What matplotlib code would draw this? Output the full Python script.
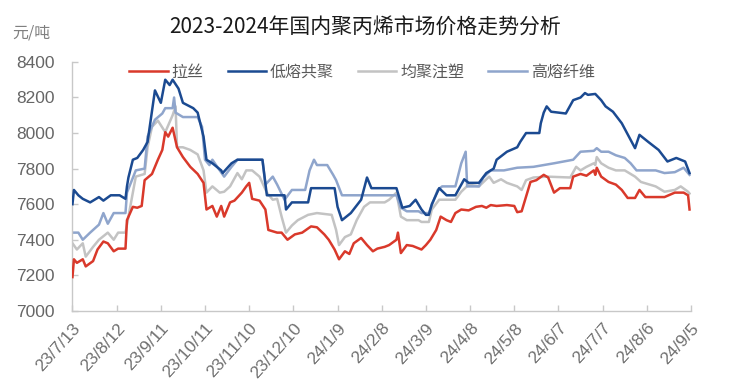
import matplotlib
matplotlib.use("Agg")
import matplotlib.pyplot as plt
import numpy as np
import pandas as pd

plt.rcParams['font.family'] = ['Noto Sans CJK SC', 'DejaVu Sans']

start_date = "2023-07-13"
tick_step_days = 30
n_ticks = 15

series_names = ["拉丝", "低熔共聚", "均聚注塑", "高熔纤维"]
series_colors = ["#d9392b", "#1b4a91", "#c3c3c3", "#8fa5cc"]

lasi_days = [0, 1, 3, 7, 9, 14, 17, 21, 24, 28, 31, 36, 37, 41, 44, 47, 49, 54, 58, 61, 63, 65, 68, 71,
             75, 80, 85, 89, 91, 95, 98, 101, 103, 107, 110, 115, 118, 120, 122, 127, 131, 133, 139, 142,
             146, 151, 156, 162, 166, 171, 174, 178, 181, 185, 188, 191, 196, 200, 204, 207, 212, 215, 220,
             221, 223, 227, 231, 237, 240, 243, 247, 250, 254, 257, 260, 264, 269, 274, 278, 281, 284, 288,
             295, 300, 302, 305, 311, 315, 320, 323, 327, 331, 338, 340, 345, 349, 354, 355, 356, 359, 364,
             369, 373, 377, 382, 385, 389, 396, 402, 409, 415, 418, 419]
lasi_vals = [7190, 7290, 7270, 7290, 7250, 7280, 7345, 7390, 7380, 7335, 7350, 7350, 7510, 7585, 7580, 7590,
             7735, 7770, 7850, 7905, 8005, 7980, 8030, 7920, 7865, 7810, 7770, 7720, 7570, 7590, 7530, 7590,
             7530, 7610, 7620, 7665, 7700, 7720, 7630, 7620, 7570, 7455, 7440, 7440, 7400, 7430, 7440, 7475,
             7470, 7430, 7400, 7345, 7290, 7335, 7320, 7380, 7410, 7370, 7335, 7350, 7360, 7370, 7400, 7440,
             7325, 7370, 7365, 7345, 7370, 7400, 7455, 7530, 7510, 7500, 7550, 7570, 7565, 7585, 7590, 7580,
             7595, 7590, 7595, 7590, 7555, 7560, 7725, 7735, 7765, 7750, 7665, 7690, 7690, 7755, 7770, 7760,
             7790, 7765, 7805, 7755, 7725, 7710, 7680, 7635, 7635, 7680, 7640, 7640, 7640, 7665, 7665, 7650,
             7570]

dirong_days = [0, 1, 4, 7, 12, 14, 18, 21, 26, 32, 36, 37, 38, 41, 44, 48, 51, 56, 60, 63, 66, 68, 72, 75,
               82, 85, 89, 91, 95, 101, 102, 108, 112, 129, 132, 144, 145, 149, 160, 162, 178, 180, 183, 189,
               196, 200, 203, 220, 224, 229, 233, 237, 240, 242, 244, 249, 254, 260, 266, 269, 276, 281, 286,
               288, 295, 302, 304, 308, 317, 318, 320, 322, 325, 335, 340, 345, 348, 350, 355, 359, 362, 367,
               373, 382, 385, 391, 398, 404, 410, 416, 419]
dirong_vals = [7600, 7680, 7650, 7630, 7610, 7620, 7640, 7620, 7650, 7650, 7630, 7700, 7750, 7850, 7860, 7905,
               7950, 8240, 8170, 8300, 8270, 8300, 8250, 8170, 8140, 8115, 7980, 7850, 7830, 7790, 7775, 7830,
               7850, 7850, 7650, 7650, 7570, 7610, 7610, 7690, 7690, 7585, 7510, 7550, 7625, 7750, 7690, 7690,
               7580, 7590, 7625, 7570, 7540, 7540, 7600, 7690, 7650, 7650, 7740, 7720, 7720, 7775, 7800, 7850,
               7895, 7920, 7950, 8000, 8000, 8055, 8115, 8150, 8120, 8110, 8185, 8200, 8225, 8215, 8220, 8185,
               8150, 8120, 8055, 7915, 7990, 7950, 7905, 7840, 7860, 7840, 7775]

junju_days = [0, 3, 7, 9, 14, 18, 24, 28, 31, 36, 38, 43, 49, 51, 54, 58, 63, 68, 70, 71, 75, 80, 85, 89,
              91, 95, 100, 103, 107, 112, 115, 118, 122, 127, 132, 136, 139, 142, 145, 149, 153, 160, 166,
              176, 179, 181, 185, 189, 193, 198, 202, 212, 215, 220, 223, 227, 235, 237, 242, 244, 249, 260,
              264, 269, 276, 281, 283, 286, 291, 295, 302, 305, 308, 313, 322, 338, 342, 345, 349, 354, 355,
              356, 359, 364, 369, 375, 382, 386, 396, 402, 409, 413, 418, 419]
junju_vals = [7380, 7345, 7380, 7305, 7360, 7400, 7440, 7400, 7440, 7440, 7530, 7755, 7770, 7920, 8035, 8070,
              8005, 8100, 8150, 7920, 7920, 7905, 7880, 7790, 7665, 7700, 7665, 7670, 7700, 7775, 7740, 7790,
              7790, 7755, 7665, 7625, 7630, 7530, 7440, 7480, 7510, 7540, 7550, 7540, 7455, 7370, 7415, 7430,
              7510, 7585, 7610, 7610, 7625, 7665, 7530, 7510, 7510, 7500, 7500, 7570, 7625, 7625, 7670, 7710,
              7700, 7740, 7755, 7720, 7740, 7720, 7700, 7680, 7735, 7750, 7755, 7750, 7810, 7790, 7810, 7830,
              7820, 7865, 7830, 7805, 7790, 7790, 7755, 7725, 7700, 7670, 7680, 7700, 7670, 7660]

gaorong_days = [0, 4, 7, 12, 18, 21, 24, 28, 36, 37, 43, 49, 51, 56, 61, 63, 68, 69, 70, 75, 85, 88, 90, 93,
                95, 100, 103, 108, 112, 129, 131, 136, 139, 144, 149, 158, 161, 164, 166, 173, 177, 179, 183,
                220, 223, 227, 235, 237, 242, 248, 251, 260, 264, 267, 268, 276, 279, 284, 293, 302, 313, 327,
                340, 345, 354, 356, 359, 364, 369, 375, 379, 383, 396, 402, 409, 415, 419]
gaorong_vals = [7440, 7440, 7400, 7440, 7485, 7550, 7490, 7550, 7550, 7665, 7790, 7800, 7980, 8075, 8110, 8140,
                8140, 8200, 8115, 8090, 8090, 8035, 7850, 7820, 7850, 7790, 7755, 7810, 7850, 7850, 7710, 7755,
                7710, 7625, 7680, 7680, 7790, 7850, 7820, 7820, 7765, 7735, 7650, 7650, 7580, 7560, 7560, 7550,
                7550, 7680, 7700, 7700, 7830, 7895, 7700, 7700, 7750, 7790, 7790, 7805, 7810, 7830, 7850, 7895,
                7900, 7915, 7895, 7895, 7875, 7860, 7830, 7790, 7790, 7775, 7780, 7805, 7765]

y_ticks = [7000, 7200, 7400, 7600, 7800, 8000, 8200, 8400]

base = pd.Timestamp(start_date)
def to_dates(days):
    return [base + pd.Timedelta(days=int(d)) for d in days]

fig = plt.figure(figsize=(7.32, 3.92), dpi=100)
ax = fig.add_axes([0.099, 0.207, 0.845, 0.635])

all_days = [lasi_days, dirong_days, junju_days, gaorong_days]
all_vals = [lasi_vals, dirong_vals, junju_vals, gaorong_vals]
zorders = [4, 3, 1, 2]
lines = []
for i in range(4):
    ln, = ax.plot(to_dates(all_days[i]), all_vals[i], color=series_colors[i], lw=1.8,
                  label=series_names[i], zorder=zorders[i], solid_joinstyle='round')
    lines.append(ln)

num_family = ['Liberation Sans Narrow', 'Liberation Sans', 'DejaVu Sans']
tick_dates = [base + pd.Timedelta(days=tick_step_days * k) for k in range(n_ticks)]
tick_labels = [f"{d.year % 100}/{d.month}/{d.day}" for d in tick_dates]
ax.set_xticks(tick_dates)
ax.set_xticklabels(tick_labels, rotation=48, ha='right', rotation_mode='anchor',
                   fontsize=12.5, color='#707070', family=num_family)
ax.set_xlim(tick_dates[0], tick_dates[-1])

ax.set_ylim(7000, 8400)
ax.set_yticks(y_ticks)
ax.set_yticklabels([str(v) for v in y_ticks], fontsize=12.5, color='#666666',
                   family=['Liberation Sans', 'DejaVu Sans'])

for s in ['top', 'right']:
    ax.spines[s].set_visible(False)
for s in ['left', 'bottom']:
    ax.spines[s].set_color('#c8c8c8')
    ax.spines[s].set_linewidth(1.0)
ax.tick_params(axis='both', direction='in', length=4, color='#c8c8c8', width=1.0)
ax.tick_params(axis='x', pad=7)
ax.tick_params(axis='y', pad=13)

leg = ax.legend(handles=lines, loc='upper center', bbox_to_anchor=(0.468, 1.05), ncol=4,
                frameon=False, fontsize=11.5, handlelength=2.4, columnspacing=1.5,
                handletextpad=0.25)
for t in leg.get_texts():
    t.set_color('#595959')

fig.text(0.499, 0.93, "2023-2024年国内聚丙烯市场价格走势分析", ha='center', va='center',
         fontsize=15, color='#1a1a1a')
fig.text(0.017, 0.916, "元/吨", ha='left', va='center', fontsize=11.5, color='#808080')

fig.savefig("out.png", dpi=100)
